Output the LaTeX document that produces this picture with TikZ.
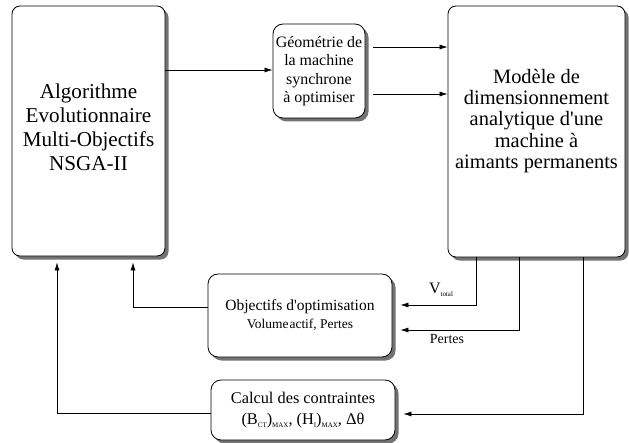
\documentclass[tikz,border=0pt]{standalone}
\usepackage{fontspec}
\setmainfont{Liberation Serif}
\usetikzlibrary{shadows,arrows.meta,calc}
\newcommand{\lowsub}[1]{\raisebox{-0.45ex}{\fontsize{7}{8}\selectfont #1}}
\tikzset{
  box/.style={draw, line width=0.8bp, rounded corners=8bp, fill=white, align=center,
    drop shadow={shadow xshift=3.5bp, shadow yshift=-3.5bp, fill=black!55, opacity=1}},
  txt/.style={align=center, inner sep=0pt},
  arr/.style={line width=0.7bp, -{Latex[length=8bp,width=5bp]}},
  ln/.style={line width=0.7bp}
}
\begin{document}
\begin{tikzpicture}[x=1bp,y=-1bp]
\useasboundingbox (0,0) rectangle (629,443);
\node[box, minimum width=153bp, minimum height=250bp] (A) at (88.5,131) {};
\node[txt, font=\fontsize{21.2}{24}\selectfont] (At) at (88.5,127)
  {Algorithme\\Evolutionnaire\\Multi-Objectifs\\NSGA-II};
\node[box, rounded corners=10bp, minimum width=92bp, minimum height=94bp, inner sep=1bp, font=\fontsize{16}{18.5}\selectfont] (G) at (319,71)
  {Géométrie de\\la machine\\synchrone\\à optimiser};
\node[box, minimum width=177bp, minimum height=251bp] (M) at (536.5,131.5) {};
\node[txt, font=\fontsize{20.5}{21.5}\selectfont] (Mt) at (536.5,121)
  {Modèle de\\dimensionnement\\analytique d\textquotesingle une\\machine à\\aimants permanents};
\node[box, rounded corners=10bp, minimum width=184bp, minimum height=83bp, font=\fontsize{15.6}{18}\selectfont] (O) at (300,315.5)
  {Objectifs d\textquotesingle optimisation\\{\fontsize{13.5}{16}\selectfont Volume\hspace{1bp}actif, Pertes}};
\node[box, rounded corners=10bp, minimum width=184bp, minimum height=60bp, font=\fontsize{16.4}{21}\selectfont] (C) at (303,410)
  {Calcul des contraintes\\(B\lowsub{CT})\lowsub{MAX}, (H\lowsub{I})\lowsub{MAX}, Δθ};
% top arrows
\draw[arr] (A.east |- 0,70) -- (G.west |- 0,70);
\draw[arr] ($(G.east |- 0,47)+(8,0)$) -- (M.west |- 0,47);
\draw[arr] ($(G.east |- 0,94)+(8,0)$) -- (M.west |- 0,94);
% outputs from model
\draw[arr] (M.south -| 476,0) |- ($(O.east)+(8,-10.5)$);
\draw[arr] (M.south -| 519,0) |- ($(O.east)+(8,14.5)$);
\draw[arr] (M.south -| 583,0) |- ($(C.east)+(8,4)$);
\node[font=\fontsize{16}{18}\selectfont] (vt) at (441,290) {V\lowsub{total}};
\node[font=\fontsize{14}{16}\selectfont] (pt) at (447,339) {Pertes};
% feedback to algorithm
\coordinate (a1) at ($(A.south -| 133,0)+(0,6)$);
\coordinate (a2) at ($(A.south -| 57,0)+(0,6)$);
\draw[arr] (O.west |- 0,307) -| (a1);
\draw[arr] (C.west |- 0,413) -| (a2);
\end{tikzpicture}
\end{document}
